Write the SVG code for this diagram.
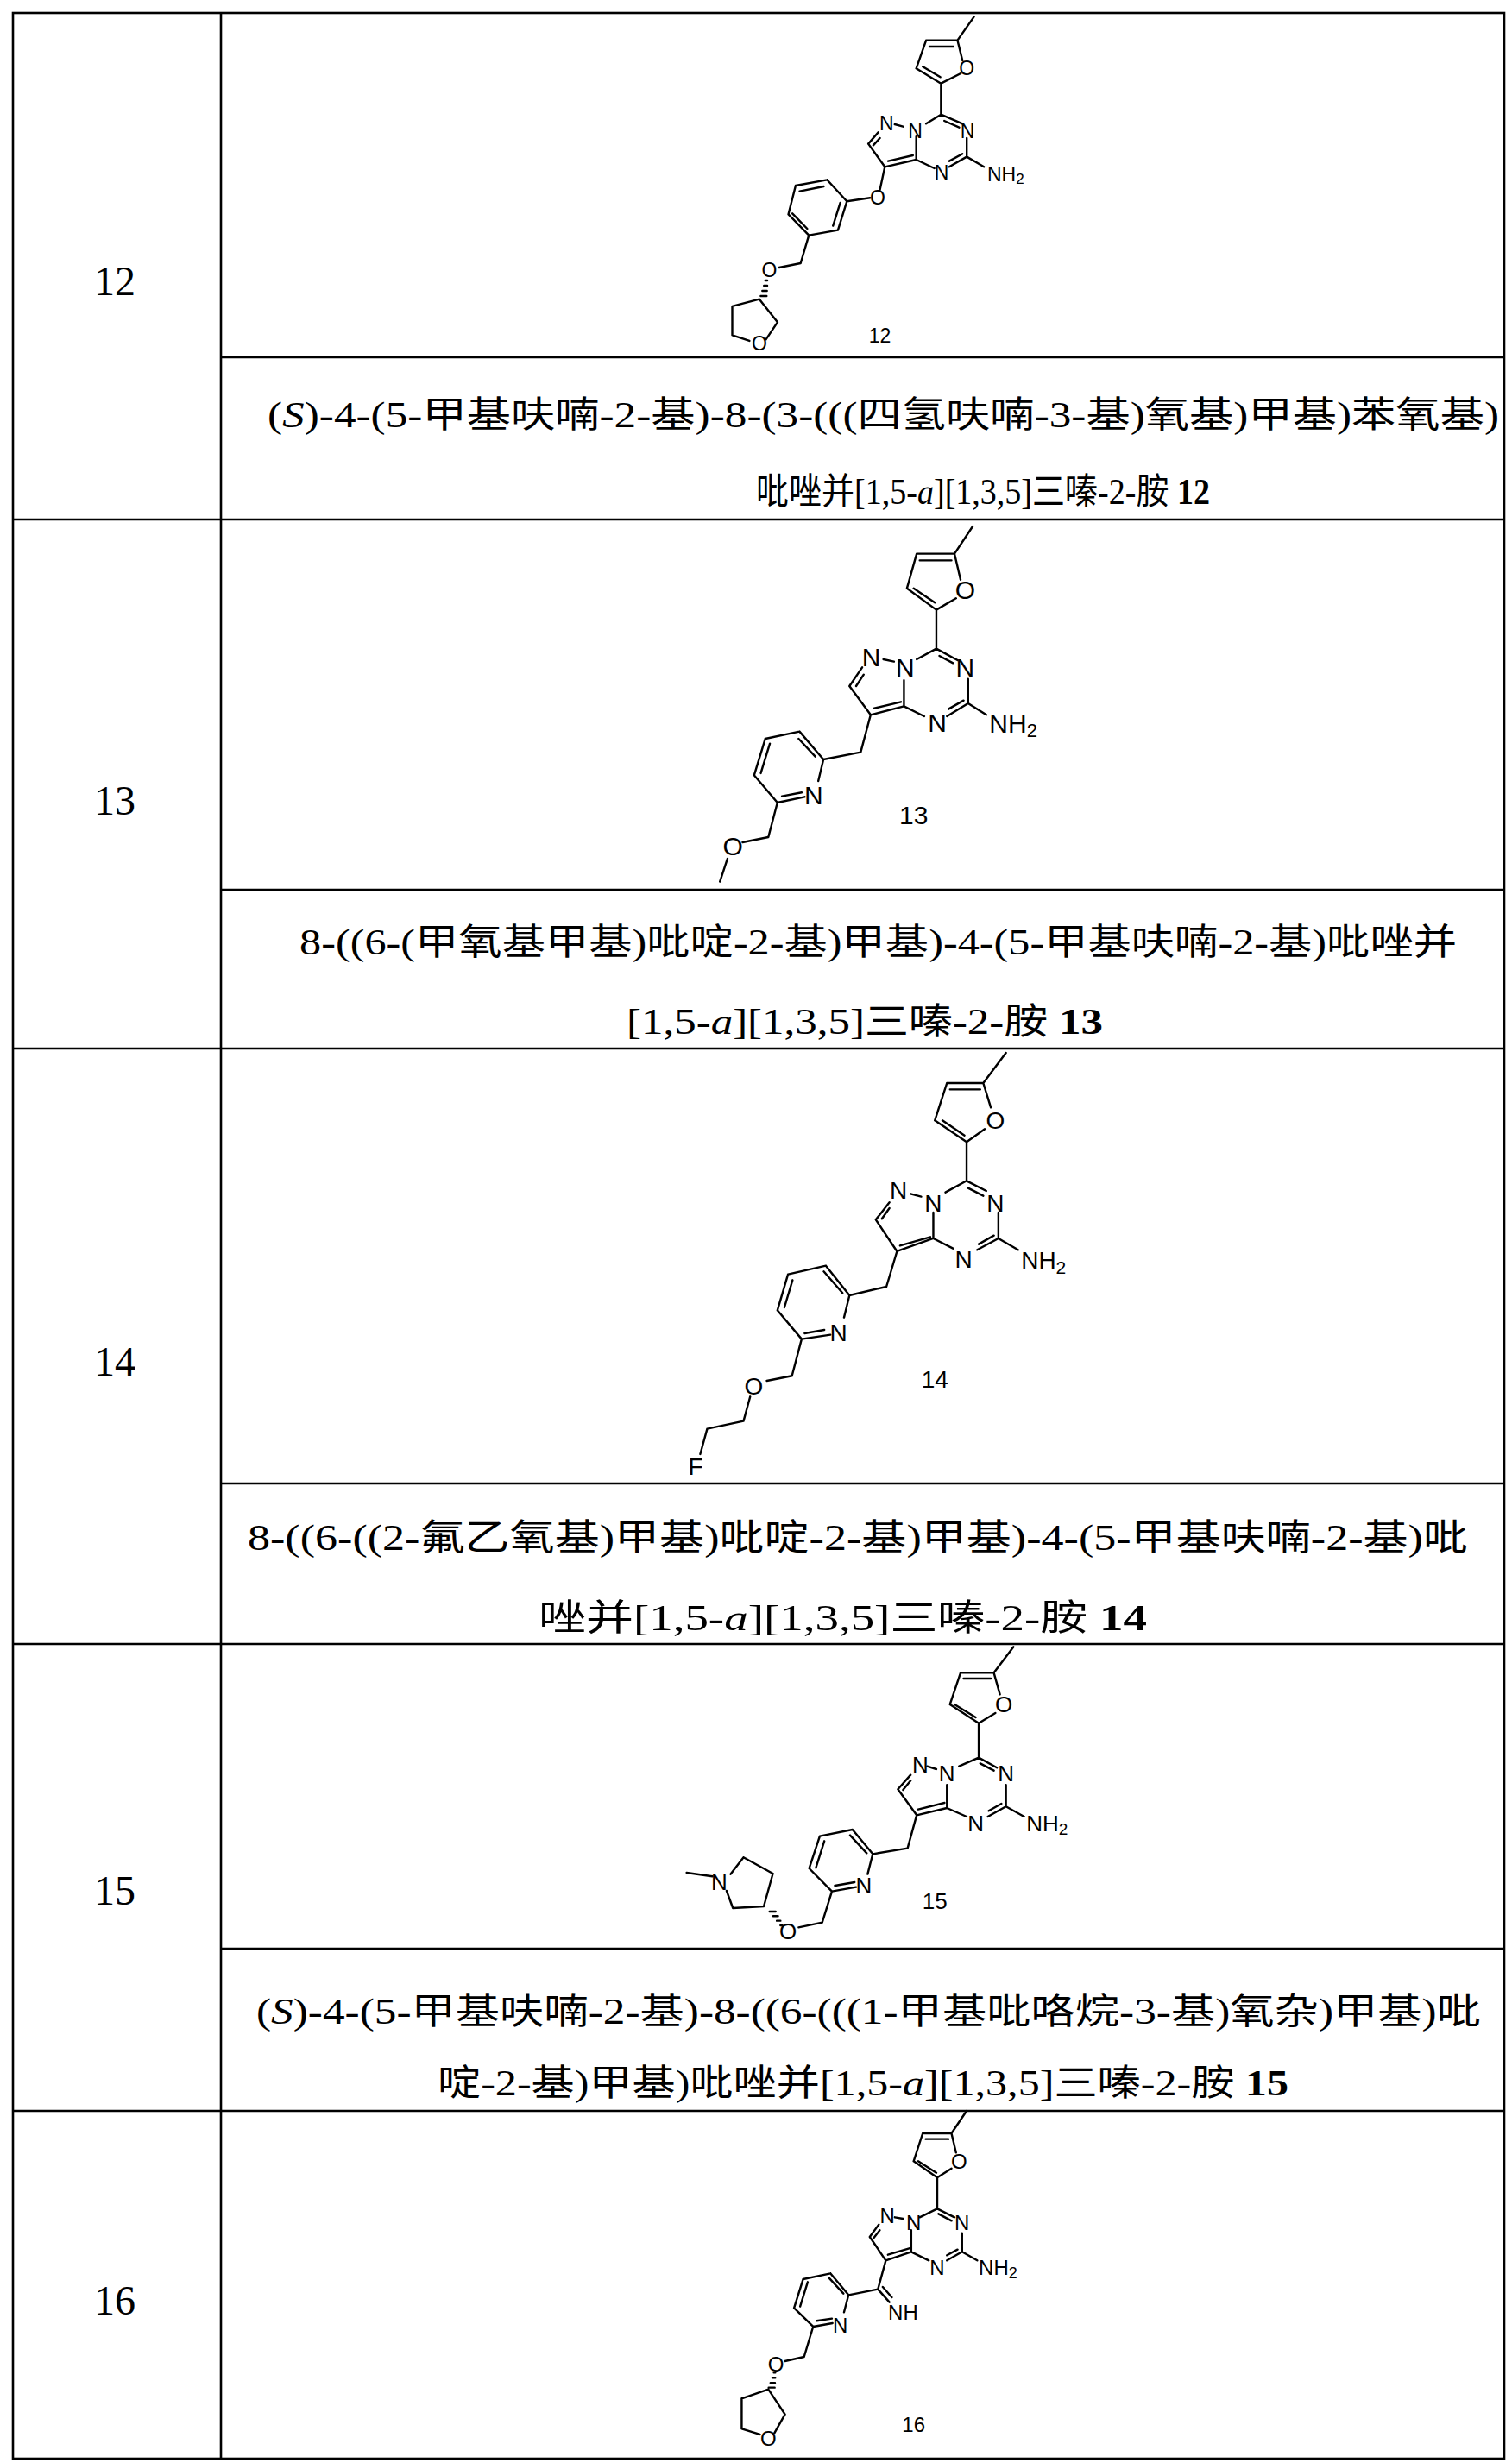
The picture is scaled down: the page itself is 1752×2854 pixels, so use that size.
<svg xmlns="http://www.w3.org/2000/svg" width="1752" height="2854" viewBox="0 0 1752 2854">
<style>
.t{stroke:#000;stroke-width:2.6;fill:none}
.b{stroke:#000;stroke-width:2.4;fill:none;vector-effect:non-scaling-stroke;stroke-linecap:round}
.a{font-family:"Liberation Sans",Arial,sans-serif;fill:#000;text-anchor:middle;dominant-baseline:central}
.s{text-anchor:start}
.n{font-family:"Liberation Serif","Times New Roman",serif;font-size:48px;fill:#000;text-anchor:middle}
.c{font-family:"Liberation Serif","Noto Sans CJK SC",serif;font-size:42px;fill:#000}
</style>
<rect width="1752" height="2854" fill="#fff"/>
<g id="table">
<rect class="t" x="15" y="15" width="1728" height="2834"/>
<path class="t" d="M256,15V2849 M15,602H1743 M15,1215H1743 M15,1905H1743 M15,2446H1743 M256,414H1743 M256,1031H1743 M256,1719H1743 M256,2258H1743"/>
</g>
<g id="numbers">
<text class="n" x="133" y="342">12</text>
<text class="n" x="133" y="944">13</text>
<text class="n" x="133" y="1594">14</text>
<text class="n" x="133" y="2207">15</text>
<text class="n" x="133" y="2682">16</text>
</g>
<g id="names">
<text class="c" x="310" y="495" textLength="1427" lengthAdjust="spacingAndGlyphs">(<tspan font-style="italic">S</tspan>)-4-(5-甲基呋喃-2-基)-8-(3-(((四氢呋喃-3-基)氧基)甲基)苯氧基)</text>
<text class="c" x="876" y="584" font-size="36" textLength="526" lengthAdjust="spacingAndGlyphs">吡唑并[1,5-<tspan font-style="italic">a</tspan>][1,3,5]三嗪-2-胺 <tspan font-weight="bold">12</tspan></text>
<text class="c" x="347" y="1106" textLength="1341" lengthAdjust="spacingAndGlyphs">8-((6-(甲氧基甲基)吡啶-2-基)甲基)-4-(5-甲基呋喃-2-基)吡唑并</text>
<text class="c" x="726" y="1198" textLength="552" lengthAdjust="spacingAndGlyphs">[1,5-<tspan font-style="italic">a</tspan>][1,3,5]三嗪-2-胺 <tspan font-weight="bold">13</tspan></text>
<text class="c" x="287" y="1796" textLength="1414" lengthAdjust="spacingAndGlyphs">8-((6-((2-氟乙氧基)甲基)吡啶-2-基)甲基)-4-(5-甲基呋喃-2-基)吡</text>
<text class="c" x="624" y="1889" textLength="705" lengthAdjust="spacingAndGlyphs">唑并[1,5-<tspan font-style="italic">a</tspan>][1,3,5]三嗪-2-胺 <tspan font-weight="bold">14</tspan></text>
<text class="c" x="297" y="2345" textLength="1419" lengthAdjust="spacingAndGlyphs">(<tspan font-style="italic">S</tspan>)-4-(5-甲基呋喃-2-基)-8-((6-(((1-甲基吡咯烷-3-基)氧杂)甲基)吡</text>
<text class="c" x="507" y="2428" textLength="986" lengthAdjust="spacingAndGlyphs">啶-2-基)甲基)吡唑并[1,5-<tspan font-style="italic">a</tspan>][1,3,5]三嗪-2-胺 <tspan font-weight="bold">15</tspan></text>
</g>
<g id="mol12" transform="translate(700,0) scale(0.3827,0.3333)" font-size="23">
<path class="b" d="M1120,58L1070,140 M1070,140L975,140 M985,162L1058,162 M975,140L945,238 M945,238L1020,290 M965,232L1018,268 M1020,290L1080,255 M1070,140L1085,210 M1020,290L1020,398 M1020,398L1085,430 M1030,420L1075,443 M1098,480L1098,545 M1098,545L1045,580 M1085,535L1045,560 M1000,585L945,555 M945,555L945,475 M975,430L1020,398 M1098,545L1150,580 M905,440L880,432 M830,460L800,500 M835,480L815,505 M800,500L850,580 M850,580L945,555 M860,560L935,540 M850,580L835,660 M805,688L735,700 M735,700L708,800 M715,705L693,785 M708,800L620,818 M620,818L558,745 M615,795L570,742 M558,745L580,645 M580,645L675,625 M592,665L665,648 M675,625L735,700 M620,818L595,915 M595,915L530,930 M470,1040L388,1065 M388,1065L388,1165 M388,1165L440,1185 M490,1180L525,1120 M525,1120L470,1040 M488,975L494,975 M484,993L494,993 M479,1011L493,1011 M474,1029L492,1029"/>
<text class="a" transform="translate(855,430) scale(2.613,3)">N</text>
<text class="a" transform="translate(942,455) scale(2.613,3)">N</text>
<text class="a" transform="translate(1100,455) scale(2.613,3)">N</text>
<text class="a" transform="translate(1022,600) scale(2.613,3)">N</text>
<text class="a s" transform="translate(1160,606) scale(2.613,3)">NH<tspan font-size="17" dy="5">2</tspan></text>
<text class="a" transform="translate(1098,238) scale(2.613,3)">O</text>
<text class="a" transform="translate(828,688) scale(2.613,3)">O</text>
<text class="a" transform="translate(500,940) scale(2.613,3)">O</text>
<text class="a" transform="translate(470,1195) scale(2.613,3)">O</text>
<text class="a" transform="translate(835,1168) scale(2.613,3)">12</text>
</g>
<g id="mol13" transform="translate(750,610) scale(0.35075,0.3333)" font-size="30">
<path class="b" d="M1075,0L1015,95 M1015,95L890,95 M900,118L1005,118 M890,95L858,215 M858,215L955,290 M880,215L950,265 M955,290L1020,250 M1015,95L1035,185 M955,290L955,425 M955,425L1025,465 M965,450L1010,475 M1060,530L1060,615 M1060,615L990,660 M1045,605L995,635 M915,660L848,625 M848,625L848,535 M890,462L955,425 M1060,615L1120,655 M780,462L815,470 M710,490L668,555 M715,515L690,555 M668,555L738,655 M738,655L848,625 M750,632L838,610 M738,655L705,785 M705,785L582,810 M582,810L503,713 M555,800L500,738 M503,713L390,738 M390,738L353,865 M405,755L375,858 M353,865L430,960 M430,960L520,940 M445,938L510,925 M565,885L582,810 M430,960L400,1080 M400,1080L315,1098 M265,1155L240,1235"/>
<text class="a" transform="translate(740,455) scale(2.851,3)">N</text>
<text class="a" transform="translate(852,490) scale(2.851,3)">N</text>
<text class="a" transform="translate(1050,490) scale(2.851,3)">N</text>
<text class="a" transform="translate(958,683) scale(2.851,3)">N</text>
<text class="a s" transform="translate(1130,686) scale(2.851,3)">NH<tspan font-size="22" dy="7">2</tspan></text>
<text class="a" transform="translate(1050,222) scale(2.851,3)">O</text>
<text class="a" transform="translate(550,935) scale(2.851,3)">N</text>
<text class="a" transform="translate(283,1112) scale(2.851,3)">O</text>
<text class="a" transform="translate(880,1005) scale(2.851,3)">13</text>
</g>
<g id="mol14" transform="translate(750,1215) scale(0.35075,0.3333)" font-size="28">
<path class="b" d="M1185,15L1110,120 M1110,120L990,120 M1000,142L1100,142 M990,120L950,250 M950,250L1055,325 M975,250L1048,302 M1055,325L1115,280 M1135,205L1110,120 M1055,325L1055,460 M1055,460L1120,495 M1060,485L1110,512 M1160,570L1160,660 M1160,660L1090,700 M1145,650L1095,680 M1010,695L945,660 M945,660L945,570 M985,500L1055,460 M1160,660L1225,700 M870,505L905,515 M800,535L755,595 M800,555L775,592 M755,595L825,705 M825,705L945,660 M835,685L935,655 M825,705L790,828 M790,828L668,858 M668,858L590,755 M645,850L583,775 M590,755L465,785 M465,785L430,910 M480,805L453,900 M430,910L510,1010 M510,1010L605,995 M520,990L585,978 M650,935L668,858 M510,1010L478,1138 M478,1138L395,1155 M340,1210L318,1295 M318,1295L198,1322 M198,1322L175,1410"/>
<text class="a" transform="translate(830,495) scale(2.851,3)">N</text>
<text class="a" transform="translate(945,540) scale(2.851,3)">N</text>
<text class="a" transform="translate(1150,540) scale(2.851,3)">N</text>
<text class="a" transform="translate(1045,735) scale(2.851,3)">N</text>
<text class="a s" transform="translate(1235,738) scale(2.851,3)">NH<tspan font-size="21" dy="7">2</tspan></text>
<text class="a" transform="translate(1150,250) scale(2.851,3)">O</text>
<text class="a" transform="translate(632,990) scale(2.851,3)">N</text>
<text class="a" transform="translate(352,1175) scale(2.851,3)">O</text>
<text class="a" transform="translate(160,1455) scale(2.851,3)">F</text>
<text class="a" transform="translate(950,1150) scale(2.851,3)">14</text>
</g>
<g id="mol15" transform="translate(750,1905) scale(0.35075,0.3333)" font-size="26">
<path class="b" d="M1210,10L1145,100 M1145,100L1035,100 M1045,120L1135,120 M1035,100L1000,210 M1000,210L1095,275 M1015,210L1085,255 M1095,275L1150,240 M1165,175L1145,100 M1095,275L1095,395 M1095,395L1155,430 M1100,415L1145,440 M1185,490L1185,565 M1185,565L1125,600 M1170,555L1128,580 M1055,600L990,570 M990,570L990,490 M1030,425L1095,395 M1185,565L1245,600 M925,425L955,435 M870,455L828,505 M870,475L845,507 M828,505L890,595 M890,595L990,570 M895,575L982,552 M890,595L860,710 M860,710L745,730 M745,730L678,645 M725,727L670,665 M678,645L570,668 M570,668L535,780 M585,685L557,778 M535,780L610,860 M610,860L690,845 M620,840L685,828 M728,800L745,730 M610,860L578,968 M578,968L500,985 M385,912L283,918 M283,918L262,858 M275,800L318,742 M318,742L415,798 M415,798L385,912 M215,808L130,795 M440,978L446,978 M428,962L440,962 M416,946L432,946 M404,930L424,930"/>
<text class="a" transform="translate(902,420) scale(2.851,3)">N</text>
<text class="a" transform="translate(990,450) scale(2.851,3)">N</text>
<text class="a" transform="translate(1185,450) scale(2.851,3)">N</text>
<text class="a" transform="translate(1085,625) scale(2.851,3)">N</text>
<text class="a s" transform="translate(1252,625) scale(2.851,3)">NH<tspan font-size="19" dy="6">2</tspan></text>
<text class="a" transform="translate(1178,210) scale(2.851,3)">O</text>
<text class="a" transform="translate(715,840) scale(2.851,3)">N</text>
<text class="a" transform="translate(465,1000) scale(2.851,3)">O</text>
<text class="a" transform="translate(238,828) scale(2.851,3)">N</text>
<text class="a" transform="translate(950,895) scale(2.851,3)">15</text>
</g>
<g id="mol16" transform="translate(750,2446) scale(0.35075,0.3333)" font-size="24">
<path class="b" d="M1055,0L1005,78 M1005,78L910,78 M920,98L995,98 M910,78L880,175 M880,175L958,232 M895,175L955,215 M958,232L1005,200 M1020,145L1005,78 M958,232L958,340 M958,340L1015,370 M962,358L1005,382 M1040,425L1040,490 M1040,490L990,520 M1025,482L990,502 M930,520L872,490 M872,490L872,415 M900,370L958,340 M1040,490L1090,520 M818,370L845,375 M765,395L735,438 M768,415L748,442 M735,438L788,520 M788,520L872,490 M795,500L865,478 M788,520L762,620 M762,620L800,665 M778,612L808,648 M762,620L665,640 M665,640L605,565 M648,635L600,580 M605,565L515,585 M515,585L485,685 M530,595L505,680 M485,685L548,750 M548,750L612,738 M560,730L610,722 M650,700L665,640 M548,750L518,855 M518,855L455,870 M400,968L312,1000 M312,1000L312,1105 M312,1105L372,1125 M420,1120L455,1055 M455,1055L400,968 M418,910L423,910 M413,928L423,928 M407,946L422,946 M401,962L421,962"/>
<text class="a" transform="translate(793,365) scale(2.851,3)">N</text>
<text class="a" transform="translate(880,390) scale(2.851,3)">N</text>
<text class="a" transform="translate(1040,390) scale(2.851,3)">N</text>
<text class="a" transform="translate(958,545) scale(2.851,3)">N</text>
<text class="a s" transform="translate(1095,545) scale(2.851,3)">NH<tspan font-size="18" dy="6">2</tspan></text>
<text class="a" transform="translate(1030,175) scale(2.851,3)">O</text>
<text class="a" transform="translate(845,700) scale(2.851,3)">NH</text>
<text class="a" transform="translate(638,745) scale(2.851,3)">N</text>
<text class="a" transform="translate(425,880) scale(2.851,3)">O</text>
<text class="a" transform="translate(400,1138) scale(2.851,3)">O</text>
<text class="a" transform="translate(880,1090) scale(2.851,3)">16</text>
</g>
</svg>
